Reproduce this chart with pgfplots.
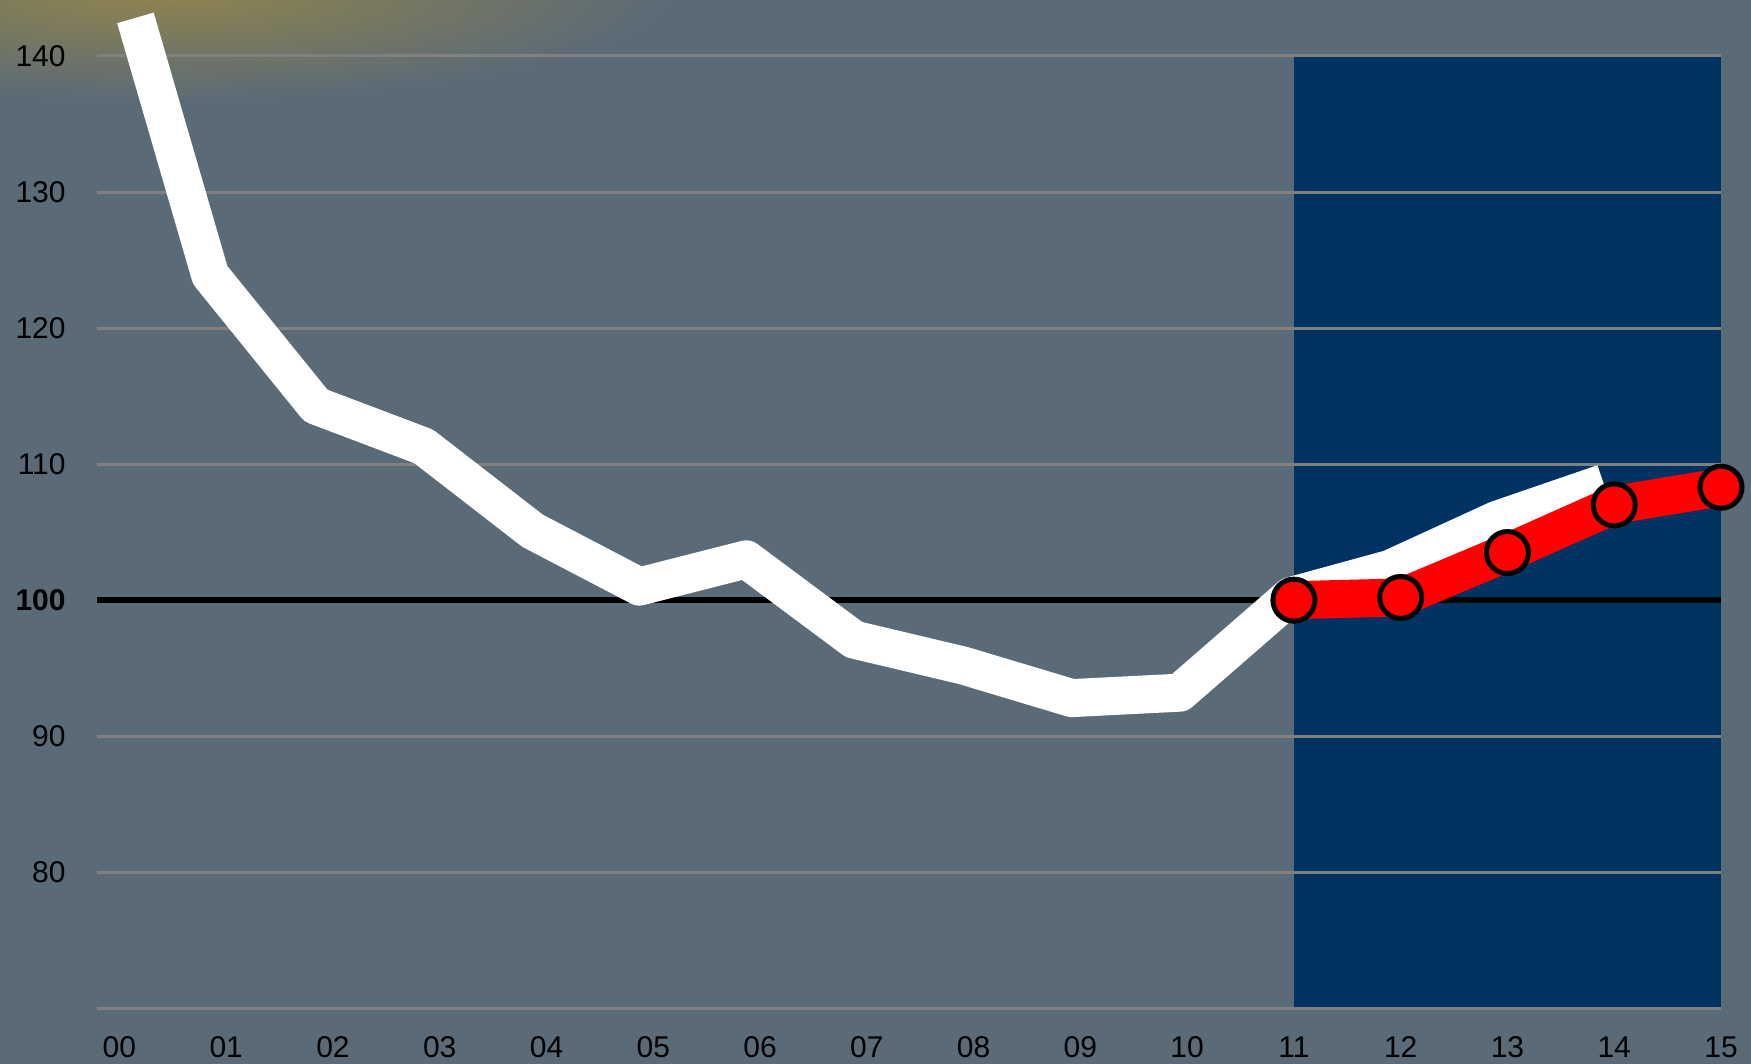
\documentclass[border=0pt]{standalone}
\usepackage{fontspec}
\setmainfont{Liberation Sans}
\usepackage{pgfplots}
\pgfplotsset{compat=1.18}
\definecolor{bg}{RGB}{90,106,119}
\definecolor{navy}{RGB}{0,50,98}
\definecolor{glow}{RGB}{145,132,78}
\definecolor{gridgray}{RGB}{128,128,128}
\begin{document}
\begin{tikzpicture}
\fill[bg] (0,0) rectangle (875.5pt,532pt);
\begin{scope}
\clip (0,0) rectangle (875.5pt,532pt);
\shade[inner color=glow, outer color=bg] (80pt,536pt) ellipse [x radius=260pt, y radius=55pt];
\end{scope}
\begin{axis}[
  at={(48.5pt,27.85pt)}, anchor=south west,
  scale only axis, width=812pt, height=476.15pt,
  xmin=-0.21, xmax=15, ymin=70, ymax=140,
  clip=false,
  axis line style={draw=none},
  major tick length=0pt,
  xtick={0,1,...,15},
  xticklabels={00,01,02,03,04,05,06,07,08,09,10,11,12,13,14,15},
  ytick={70,80,...,140},
  yticklabels={,80,90,\textbf{100},110,120,130,140},
  ticklabel style={font=\fontsize{15}{18}\selectfont, inner sep=0pt},
  xticklabel style={anchor=north, yshift=-14pt},
  yticklabel style={anchor=east, xshift=-15.5pt},
]
\addplot[draw=none, fill=navy] coordinates {(11,70) (11,140) (15,140) (15,70)} -- cycle;
\pgfplotsinvokeforeach{70,80,90,110,120,130,140}{
  \addplot[gridgray, line width=1.5pt] coordinates {(-0.21,#1) (15,#1)};
}
\addplot[black, line width=3pt] coordinates {(-0.21,100) (15,100)};
\addplot[white, line width=19pt, line join=round, line cap=butt] coordinates {
(0.15,142.8) (0.85,123.9) (1.84,114.3) (2.85,111.3) (3.87,105.1) (4.87,101.0)
(5.87,103.0) (6.88,97.1) (7.90,95.2) (8.92,92.8) (9.93,93.2) (10.97,100.3)
(11.9,102.3) (12.9,105.9) (13.9,108.6)};
\addplot[red, line width=19pt, line join=round, mark=*, mark size=10.5pt,
  mark options={fill=red, draw=black, line width=2.5pt}] coordinates {
(11,100.0) (12,100.2) (13,103.5) (14,107.0) (15,108.3)};
\end{axis}
\pgfresetboundingbox
\path[use as bounding box] (0,0) rectangle (875.5pt,532pt);
\end{tikzpicture}
\end{document}
